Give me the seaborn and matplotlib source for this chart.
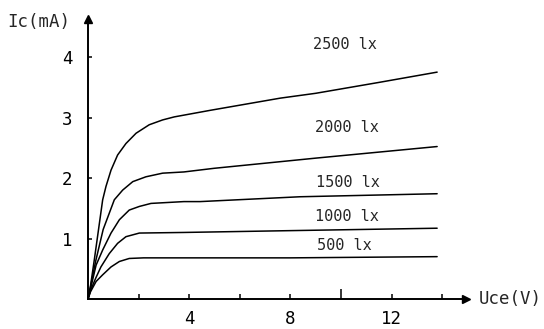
import matplotlib
matplotlib.use("Agg")
import matplotlib.pyplot as plt
import seaborn as sns
import pandas as pd

# ---- data ----
V_500 = [0, 0.1, 0.32, 0.58, 0.91, 1.24, 1.63, 2.2, 8.0, 13.8]
I_500 = [0, 0.12, 0.29, 0.40, 0.53, 0.62, 0.67, 0.68, 0.68, 0.70]

V_1000 = [0, 0.1, 0.3, 0.51, 0.84, 1.17, 1.50, 2.03, 3.79, 8.0, 13.8]
I_1000 = [0, 0.14, 0.34, 0.53, 0.75, 0.92, 1.03, 1.09, 1.10, 1.13, 1.17]

V_1500 = [0, 0.1, 0.32, 0.58, 0.91, 1.24, 1.63, 2.03, 2.49, 3.79, 4.43, 8.38, 13.8]
I_1500 = [0, 0.17, 0.56, 0.81, 1.09, 1.31, 1.47, 1.53, 1.58, 1.61, 1.61, 1.69, 1.74]

V_2000 = [0, 0.1, 0.3, 0.6, 1.04, 1.37, 1.77, 2.29, 2.95, 3.79, 4.98, 9.04, 13.8]
I_2000 = [0, 0.2, 0.62, 1.15, 1.64, 1.80, 1.94, 2.02, 2.08, 2.10, 2.16, 2.33, 2.52]

V_2500 = [0, 0.1, 0.25, 0.45, 0.58, 0.71, 0.91, 1.17, 1.50, 1.90, 2.42, 2.95, 3.41, 4.85, 7.6, 9.0, 11.5, 13.8]
I_2500 = [0, 0.22, 0.65, 1.25, 1.64, 1.86, 2.13, 2.38, 2.57, 2.74, 2.88, 2.96, 3.01, 3.12, 3.32, 3.40, 3.58, 3.75]

curve_names = ["500 lx", "1000 lx", "1500 lx", "2000 lx", "2500 lx"]
label_pos_V = [9.05, 8.97, 9.01, 8.97, 8.89]
label_pos_I = [0.89, 1.36, 1.93, 2.83, 4.20]

x_ticks = [2, 4, 6, 8, 10, 12, 14]
x_tick_labels = ["", "4", "", "8", "", "12", ""]
y_ticks = [1, 2, 3, 4]
y_tick_labels = ["1", "2", "3", "4"]

x_label = "Uce(V)"
y_label = "Ic(mA)"

# ---- build long table ----
rows = []
for name, vs, is_ in zip(curve_names,
                         [V_500, V_1000, V_1500, V_2000, V_2500],
                         [I_500, I_1000, I_1500, I_2000, I_2500]):
    for v, i in zip(vs, is_):
        rows.append({"Uce": v, "Ic": i, "curve": name})
df = pd.DataFrame(rows)

sns.set_style("white")
plt.rcParams["font.family"] = ["DejaVu Sans Mono", "DejaVu Sans"]

fig = plt.figure(figsize=(5.44, 3.29), dpi=100)
ax = fig.add_axes([0, 0, 1, 1])

sns.lineplot(data=df, x="Uce", y="Ic", hue="curve", units="curve",
             estimator=None, sort=False, palette=["black"] * 5,
             legend=False, linewidth=1.1, ax=ax)

# pixel mapping: x=0 at 88px, 25.3 px/V ; y=0 at 299px from top, 60.5 px/mA
W, H = 544, 329
ax.set_xlim(-88 / 25.3, (W - 88) / 25.3)
ax.set_ylim(-(H - 299) / 60.5, 299 / 60.5)

for s in ["top", "right"]:
    ax.spines[s].set_visible(False)
ax.spines["left"].set_position(("data", 0))
ax.spines["bottom"].set_position(("data", 0))
ax.spines["left"].set_bounds(0, 4.6)
ax.spines["bottom"].set_bounds(0, 14.9)
for s in ["left", "bottom"]:
    ax.spines[s].set_linewidth(1.4)
    ax.spines[s].set_color("black")

# arrowheads
ax.plot([14.95], [0], marker=">", color="black", markersize=6, clip_on=False)
ax.plot([0], [4.62], marker="^", color="black", markersize=6, clip_on=False)

ax.set_xticks(x_ticks)
ax.set_xticklabels(x_tick_labels)
ax.set_yticks(y_ticks)
ax.set_yticklabels(y_tick_labels)
ax.tick_params(axis="x", direction="in", length=3.5, width=1.1, pad=8,
               labelsize=12.5, colors="black", bottom=True)
ax.tick_params(axis="y", direction="in", length=3, width=1.1, pad=11,
               labelsize=12.5, colors="black", left=True)
ax.xaxis.get_major_ticks()[4].tick1line.set_markersize(7)
ax.set_xlabel("")
ax.set_ylabel("")

ax.text(15.45, 0, x_label, fontsize=12.5, ha="left", va="center")
ax.text(-3.18, 4.58, y_label, fontsize=12.5, ha="left", va="center")

for name, lv, li in zip(curve_names, label_pos_V, label_pos_I):
    ax.text(lv, li, name, fontsize=11, ha="left", va="center")

fig.savefig("out.png", dpi=100, facecolor="white")
